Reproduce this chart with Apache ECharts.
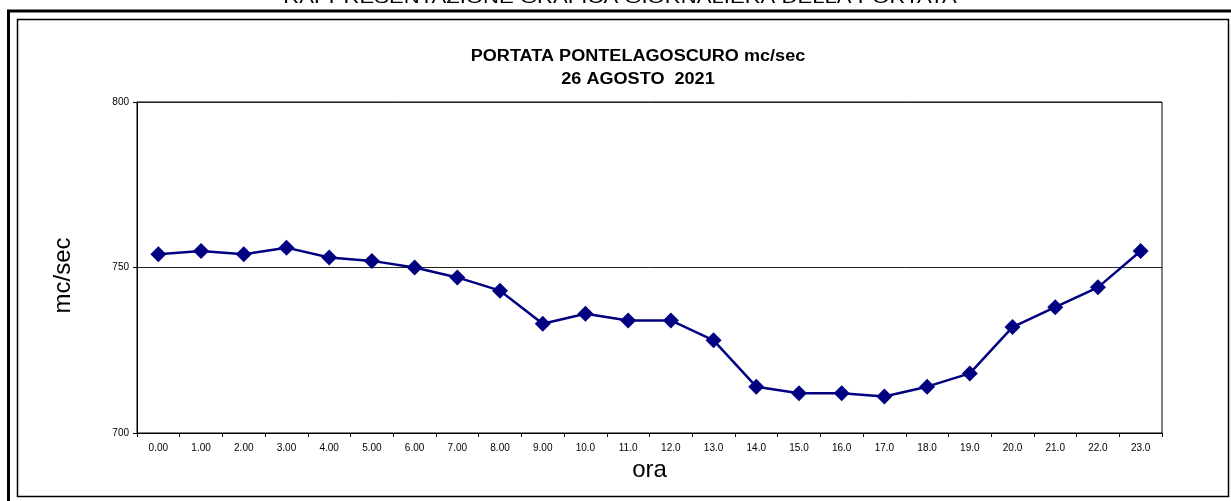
<!DOCTYPE html>
<html>
<head>
<meta charset="utf-8">
<script src="https://cdn.jsdelivr.net/npm/echarts@6/dist/echarts.min.js"></script>
<style>
  html, body { margin: 0; padding: 0; background: #fff; }
  #chart { width: 1231px; height: 501px; }
</style>
</head>
<body>
<div id="chart"></div>
<script>
// ore del giorno
const hours = ['0.00', '1.00', '2.00', '3.00', '4.00', '5.00', '6.00', '7.00', '8.00', '9.00',
  '10.0', '11.0', '12.0', '13.0', '14.0', '15.0', '16.0', '17.0', '18.0', '19.0',
  '20.0', '21.0', '22.0', '23.0']

// portata mc/sec
const portata = [754, 755, 754, 756, 753, 752, 750, 747, 743, 733,
  736, 734, 734, 728, 714, 712, 712, 711, 714, 718,
  732, 738, 744, 755]

const yTicks = [700, 750, 800]

const font = 'Liberation Sans, Arial, sans-serif'

const chart = echarts.init(document.getElementById('chart'))

chart.setOption({
  animation: false,
  backgroundColor: '#fff',
  textStyle: { fontFamily: font },
  grid: {
    left: 137,
    right: 69,
    top: 102,
    bottom: 68,
    show: true,
    borderColor: '#000',
    borderWidth: 1
  },
  xAxis: {
    type: 'category',
    data: hours,
    boundaryGap: true,
    name: 'ora',
    nameLocation: 'middle',
    nameGap: 22,
    nameTextStyle: { fontSize: 24, color: '#000', fontFamily: font },
    axisLine: { lineStyle: { color: '#000', width: 1 } },
    axisTick: { show: true, length: 4, alignWithLabel: false, lineStyle: { color: '#000' } },
    axisLabel: { fontSize: 10, color: '#000', margin: 10, fontFamily: font },
    splitLine: { show: false }
  },
  yAxis: {
    type: 'value',
    min: yTicks[0],
    max: yTicks[yTicks.length - 1],
    interval: 50,
    name: 'mc/sec',
    nameLocation: 'middle',
    nameGap: 62,
    nameRotate: 90,
    nameTextStyle: { fontSize: 24, color: '#000', fontFamily: font, padding: [0, 16, 0, 0] },
    axisLine: { show: true, lineStyle: { color: '#000', width: 1 } },
    axisTick: { show: true, length: 4, lineStyle: { color: '#000' } },
    axisLabel: { fontSize: 10, color: '#000', margin: 8, fontFamily: font },
    splitLine: { show: true, lineStyle: { color: '#222', width: 1 } }
  },
  series: [{
    type: 'line',
    data: portata,
    symbol: 'diamond',
    symbolSize: 16,
    lineStyle: { color: '#000080', width: 2.5 },
    itemStyle: { color: '#000080' }
  }],
  graphic: [
    // titolo del foglio, tagliato in alto
    {
      type: 'text',
      x: 620,
      y: 7,
      scaleX: 1.3,
      style: {
        text: 'RAPPRESENTAZIONE GRAFICA GIORNALIERA DELLA PORTATA',
        font: '17px ' + font,
        fill: '#000',
        textAlign: 'center',
        textVerticalAlign: 'bottom'
      }
    },
    // titolo del grafico
    {
      type: 'text',
      x: 638,
      y: 57,
      scaleX: 1.13,
      style: {
        text: 'PORTATA PONTELAGOSCURO mc/sec',
        font: 'bold 16px ' + font,
        fill: '#000',
        textAlign: 'center',
        textVerticalAlign: 'middle'
      }
    },
    {
      type: 'text',
      x: 638,
      y: 80,
      scaleX: 1.13,
      style: {
        text: '26 AGOSTO  2021',
        font: 'bold 16px ' + font,
        fill: '#000',
        textAlign: 'center',
        textVerticalAlign: 'middle'
      }
    },
    // cornice spessa
    { type: 'line', shape: { x1: 7, y1: 11, x2: 1231, y2: 11 }, style: { stroke: '#000', lineWidth: 3 } },
    { type: 'line', shape: { x1: 8.5, y1: 10, x2: 8.5, y2: 501 }, style: { stroke: '#000', lineWidth: 3 } },
    // cornice interna
    { type: 'rect', shape: { x: 17.5, y: 19.5, width: 1211, height: 477 }, style: { fill: null, stroke: '#000', lineWidth: 1.5 } }
  ]
})
</script>
</body>
</html>
